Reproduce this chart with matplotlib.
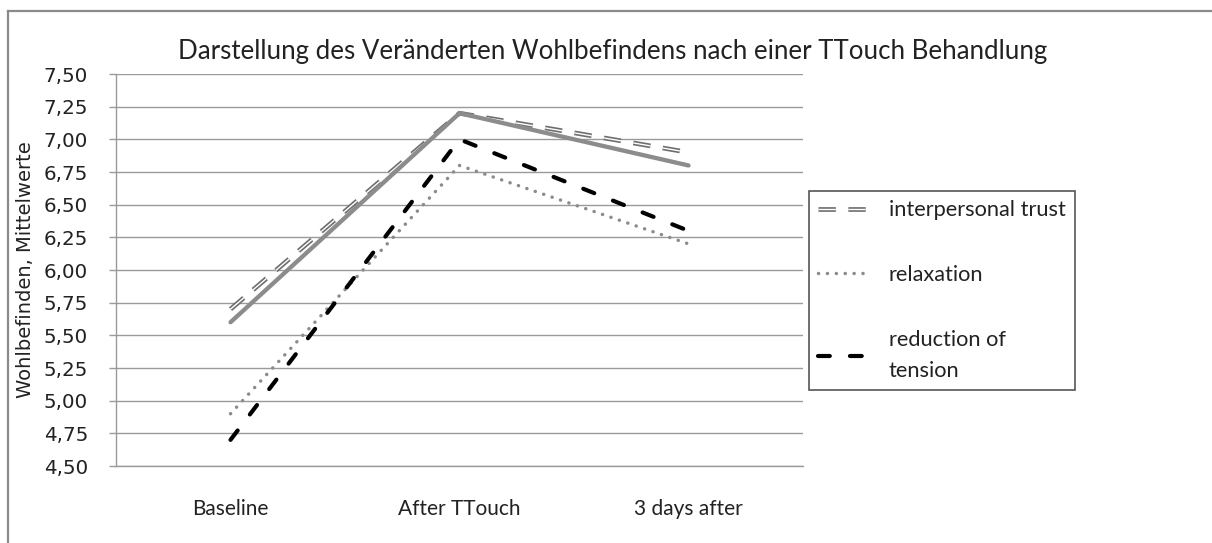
import matplotlib
matplotlib.use('Agg')
import matplotlib.pyplot as plt
from matplotlib.lines import Line2D
from matplotlib.legend_handler import HandlerTuple
from matplotlib.ticker import FuncFormatter

plt.rcParams['lines.scale_dashes'] = False

# data
categories = ['Baseline', 'After TTouch', '3 days after']
trust = [5.70, 7.20, 6.90]
solid_series = [5.60, 7.20, 6.80]
relaxation = [4.90, 6.80, 6.20]
tension = [4.70, 7.00, 6.30]
yticks = [4.50 + 0.25 * i for i in range(13)]

title = 'Darstellung des Veränderten Wohlbefindens nach einer TTouch Behandlung'
ylabel = 'Wohlbefinden, Mittelwerte'
narrow = 'Lato'

fig = plt.figure(figsize=(12.12, 5.43), dpi=100)
ax = fig.add_axes([116/1212, 77/543, 687/1212, 392/543])

x = list(range(len(categories)))
grid_c = '#9a9a9a'

# interpersonal trust: double line (gray dashes with white core)
l_out, = ax.plot(x, trust, color='#6e6e6e', lw=3.4, dashes=(12.5, 9), dash_capstyle='butt', zorder=3)
l_in, = ax.plot(x, trust, color='white', lw=1.0, dashes=(12.5, 9), dash_capstyle='butt', zorder=3.1)
# solid gray series (not in legend)
ax.plot(x, solid_series, color='#8c8c8c', lw=3.1, solid_capstyle='round', solid_joinstyle='miter', zorder=3.2)
l_rel, = ax.plot(x, relaxation, color='#8c8c8c', lw=2.5, dashes=(0.1, 6.3), dash_capstyle='round', zorder=3.3)
l_ten, = ax.plot(x, tension, color='black', lw=3.0, dashes=(8.5, 14.5), dash_capstyle='round', zorder=3.4)

ax.set_xlim(-0.5, 2.5)
ax.set_ylim(4.5, 7.5)
ax.set_yticks(yticks)
ax.yaxis.set_major_formatter(FuncFormatter(lambda v, p: ('%.2f' % v).replace('.', ',')))
ax.set_xticks(x)
ax.set_xticklabels(categories, family=narrow, fontsize=15, color='#222222')
ax.tick_params(axis='x', length=0, pad=24)
ax.tick_params(axis='y', length=5, color=grid_c, width=1, pad=15, labelsize=14.3, labelcolor='#222222')
for lab in ax.get_yticklabels():
    lab.set_family('DejaVu Sans')

ax.grid(axis='y', color=grid_c, lw=1)
ax.set_axisbelow(True)
for s in ['top', 'right']:
    ax.spines[s].set_visible(False)
for s in ['left', 'bottom']:
    ax.spines[s].set_color(grid_c)
    ax.spines[s].set_linewidth(1)

fig.text(26/1212, 1 - 270/543, ylabel, rotation=90, ha='center', va='center',
         fontsize=14, color='#222222', family='DejaVu Sans')
fig.text(613/1212, 1 - 51/543, title, ha='center', va='center',
         fontsize=18.6, color='#222222', family=narrow)

leg = ax.legend([(l_out, l_in), l_rel, l_ten],
                ['interpersonal trust', 'relaxation', 'reduction of\ntension'],
                handler_map={tuple: HandlerTuple(ndivide=1, pad=0)},
                loc='upper left', bbox_to_anchor=(809/1212, 1 - 191/543),
                bbox_transform=fig.transFigure, borderaxespad=0,
                prop={'family': narrow, 'size': 15.7}, handlelength=2.4,
                handletextpad=0.84, labelspacing=2.05, borderpad=0.42,
                fancybox=False, framealpha=1, edgecolor='#555555')
leg.get_frame().set_linewidth(1.2)
for t in leg.get_texts():
    t.set_color('#222222')
    t.set_linespacing(1.72)

# outer chart frame (only top and left visible)
fig.add_artist(Line2D([8/1212, 1], [1 - 11/543, 1 - 11/543], transform=fig.transFigure, color='#8a8a8a', lw=1.6))
fig.add_artist(Line2D([8/1212, 8/1212], [0, 1 - 11/543], transform=fig.transFigure, color='#8a8a8a', lw=1.6))

fig.savefig('out.png', dpi=100, facecolor='white')
